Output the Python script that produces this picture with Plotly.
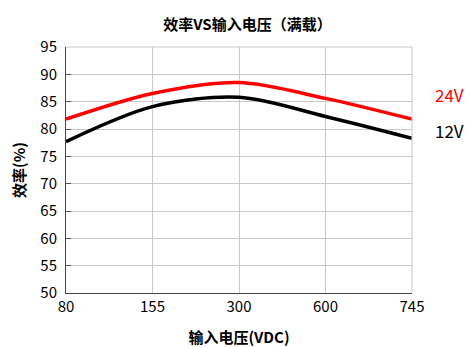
import plotly.graph_objects as go

categories = ["80", "155", "300", "600", "745"]
eff_24v = [81.8, 86.5, 88.5, 85.6, 81.8]
eff_12v = [77.7, 84.1, 85.8, 82.3, 78.3]
y_ticks = [50, 55, 60, 65, 70, 75, 80, 85, 90, 95]

FONT = "Noto Sans CJK SC"
xs = list(range(len(categories)))

fig = go.Figure()
fig.add_trace(go.Scatter(x=xs, y=eff_24v, mode="lines", line=dict(color="#ff0000", width=3.5, shape="spline", smoothing=0.9), name="24V"))
fig.add_trace(go.Scatter(x=xs, y=eff_12v, mode="lines", line=dict(color="#000000", width=3.5, shape="spline", smoothing=0.9), name="12V"))

# page body has an 8px default margin, so the figure is sized/offset to compensate
fig.update_layout(
    width=465, height=339,
    margin=dict(l=58, r=61, t=39, b=54, autoexpand=False),
    paper_bgcolor="white", plot_bgcolor="white",
    showlegend=False,
    font=dict(family=FONT, color="black", size=15),
    title=dict(text="<b>效率VS输入电压（满载）</b>", x=0.515, xanchor="center", y=0.95, yanchor="middle",
               font=dict(size=15, family=FONT), automargin=False),
)
fig.update_xaxes(
    range=[0, 4], tickvals=xs, ticktext=categories,
    showgrid=True, gridcolor="#c8c8c8", gridwidth=1,
    showline=True, linecolor="#444", linewidth=1, mirror=False,
    ticks="", zeroline=False, automargin=False,
    title=dict(text="<b>输入电压(VDC)</b>", font=dict(size=15), standoff=18),
    tickfont=dict(size=15),
)
fig.update_yaxes(
    range=[50, 95], tickvals=y_ticks,
    showgrid=True, gridcolor="#c8c8c8", gridwidth=1,
    showline=True, linecolor="#444", linewidth=1,
    ticks="inside", ticklen=5, tickcolor="#555",
    ticklabelstandoff=5,
    zeroline=False, automargin=False,
    title=dict(text="<b>效率(%)</b>", font=dict(size=15), standoff=14),
    tickfont=dict(size=15),
)
fig.add_shape(type="line", xref="paper", yref="paper", x0=1, x1=1, y0=0, y1=1, line=dict(color="#c8c8c8", width=1))
fig.add_shape(type="line", xref="paper", yref="paper", x0=0, x1=1, y0=1, y1=1, line=dict(color="#c8c8c8", width=1))

fig.add_annotation(text="24V", xref="paper", yref="y", x=1.06, y=eff_24v[-1] + 4.6, xanchor="left", yanchor="middle",
                   showarrow=False, font=dict(size=17, color="#ff0000"))
fig.add_annotation(text="12V", xref="paper", yref="y", x=1.06, y=eff_12v[-1] + 1.5, xanchor="left", yanchor="middle",
                   showarrow=False, font=dict(size=17, color="#000000"))

fig.write_html("out.html")
